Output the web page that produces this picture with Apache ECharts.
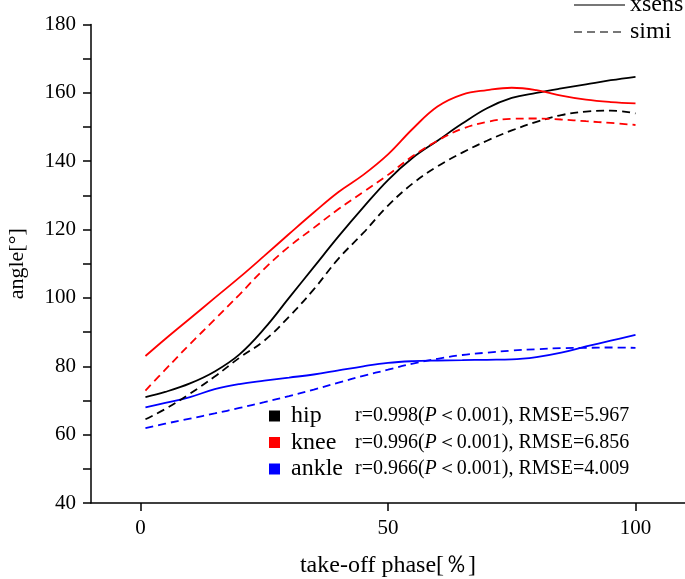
<!DOCTYPE html>
<html>
<head>
<meta charset="utf-8">
<script src="https://cdn.jsdelivr.net/npm/echarts@6/dist/echarts.min.js"></script>
<style>html,body{margin:0;padding:0;background:#fff}#c{width:685px;height:579px}</style>
</head>
<body>
<div id="c"></div>
<script>
const phase = [1,5,10,15,20,25,30,35,40,45,50,55,60,65,70,75,80,85,90,95,100];
const hipXsens   = [71,72.5,75,78.5,83.5,91,100,109,118,126.5,134.5,141,146,151,155.5,158.5,160,161.3,162.5,163.7,164.7];
const hipSimi    = [64.5,67.5,72,77,82.5,87.5,94.5,102.5,111.5,119,127,133.5,138.5,142.5,146,149,151.5,153.5,154.5,154.8,154];
const kneeXsens  = [83,88,94,100,106,112.3,118.7,125,131,136,142,149.5,156,159.5,160.8,161.5,160.8,159.2,158,157.3,156.9];
const kneeSimi   = [72.9,79,86.5,93.7,101,108.5,115,120.5,126,131,136,141.5,146,149.5,151.5,152.4,152.5,152.2,151.7,151.2,150.6];
const ankleXsens = [68,69.3,71,73.3,74.8,75.8,76.7,77.6,78.8,80,81,81.5,81.7,81.8,81.9,82,82.7,84,85.8,87.5,89.2];
const ankleSimi  = [61.9,63.2,64.7,66.2,67.8,69.5,71.3,73.2,75.2,77.2,79,80.8,82.2,83.3,84,84.6,85,85.3,85.4,85.5,85.4];
const joints = ['hip','knee','ankle'];
const stats = {
  hip:   ['0.998','0.001','5.967'],
  knee:  ['0.996','0.001','6.856'],
  ankle: ['0.966','0.001','4.009']
};
const xTicks = [0,50,100];

const FONT = '"Liberation Serif","Times New Roman",serif';
const pair = (xs, ys) => xs.map((x,i)=>[x, ys[i]]);
const dash = [8,5];
function line(name, data, color, dashed){
  return {
    name, type:'line', data, smooth:0.4, symbol:'none', silent:true,
    lineStyle:{color, width:1.8, type: dashed ? dash : 'solid'},
    itemStyle:{color}, z: 3
  };
}
const series = [
  line('hip', pair(phase, hipXsens), '#000000', false),
  line('knee', pair(phase, kneeXsens), '#ff0000', false),
  line('ankle', pair(phase, ankleXsens), '#0000ff', false),
  line('hip simi', pair(phase, hipSimi), '#000000', true),
  line('knee simi', pair(phase, kneeSimi), '#ff0000', true),
  line('ankle simi', pair(phase, ankleSimi), '#0000ff', true),
  {name:'xsens', type:'line', data:[], symbol:'none', lineStyle:{color:'#777', width:1.8, type:'solid'}, itemStyle:{color:'#777'}},
  {name:'simi', type:'line', data:[], symbol:'none', lineStyle:{color:'#777', width:1.8, type:dash}, itemStyle:{color:'#777'}}
];

const chart = echarts.init(document.getElementById('c'), null, {renderer:'canvas'});
chart.setOption({
  animation:false,
  backgroundColor:'#fff',
  textStyle:{fontFamily:FONT},
  grid:{left:91, right:0, top:24.5, bottom:76, containLabel:false, outerBoundsMode:'none'},
  xAxis:{
    type:'value', min:-10, max:110,
    name:'take-off phase[％]', nameLocation:'middle', nameGap:51,
    nameTextStyle:{fontFamily:FONT, fontSize:24, color:'#000'},
    axisLine:{show:true, onZero:false, lineStyle:{color:'#000', width:1.5}},
    axisTick:{show:true, customValues:xTicks, length:8, inside:false, lineStyle:{color:'#000', width:1.5}},
    axisLabel:{customValues:xTicks, fontFamily:FONT, fontSize:21, color:'#000', margin:15},
    splitLine:{show:false}
  },
  yAxis:{
    type:'value', min:40, max:180, interval:20,
    name:'angle[°]', nameLocation:'middle', nameGap:63, nameRotate:90,
    nameTextStyle:{fontFamily:FONT, fontSize:22, color:'#000'},
    axisLine:{show:true, onZero:false, lineStyle:{color:'#000', width:1.5}},
    axisTick:{show:true, length:8, lineStyle:{color:'#000', width:1.5}},
    minorTick:{show:true, splitNumber:2, length:8, lineStyle:{color:'#000', width:1.5}},
    axisLabel:{fontFamily:FONT, fontSize:21, color:'#000', margin:15},
    splitLine:{show:false}
  },
  legend:[
    {
      data:['xsens','simi'], orient:'vertical', left:568, top:-12,
      itemWidth:51, itemHeight:12, itemGap:3, selectedMode:false,
      itemStyle:{opacity:0},
      textStyle:{fontFamily:FONT, fontSize:24, color:'#000', padding:[0,0,0,0]}
    },
    {
      data:joints.map(j=>({name:j, icon:'rect'})), orient:'vertical', left:264, top:399,
      itemWidth:11, itemHeight:11, itemGap:2.5, selectedMode:false,
      formatter: n => '{n|' + n + '}{s|r=' + stats[n][0] + '(}{i|P}{s|＜' + stats[n][1] + '), RMSE=' + stats[n][2] + '}',
      textStyle:{
        fontFamily:FONT, color:'#000', padding:[0,0,0,6],
        rich:{
          n:{fontFamily:FONT, fontSize:24, width:64, lineHeight:27, color:'#000'},
          s:{fontFamily:FONT, fontSize:20, lineHeight:27, color:'#000'},
          i:{fontFamily:FONT, fontSize:20, lineHeight:27, fontStyle:'italic', color:'#000'}
        }
      }
    }
  ],
  series
});
</script>
</body>
</html>
